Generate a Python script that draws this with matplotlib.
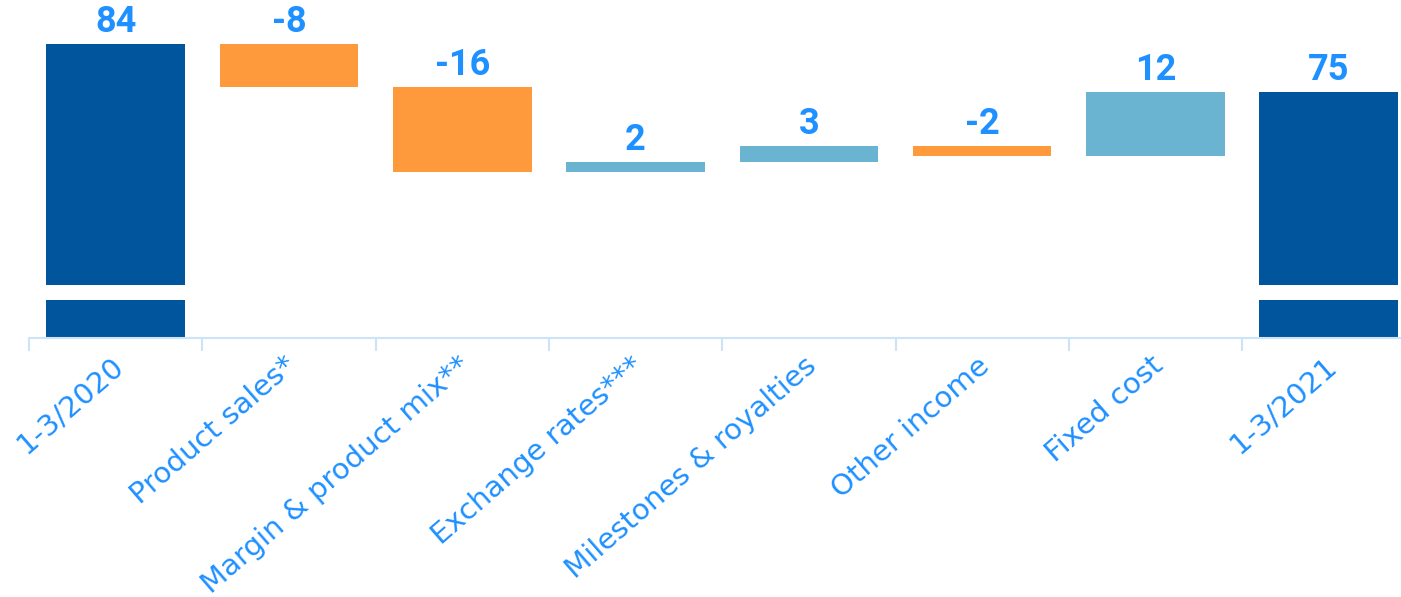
import matplotlib
matplotlib.use("Agg")
import matplotlib.pyplot as plt
import matplotlib.transforms as mtransforms

categories = ["1-3/2020", "Product sales*", "Margin & product mix**", "Exchange rates***",
              "Milestones & royalties", "Other income", "Fixed cost", "1-3/2021"]
values = [84, -8, -16, 2, 3, -2, 12, 75]
is_total = [True, False, False, False, False, False, False, True]
value_labels = ["84", "-8", "-16", "2", "3", "-2", "12", "75"]

C_TOTAL = "#00559C"
C_NEG = "#FF9A3C"
C_POS = "#6AB3D1"
C_TEXT = "#1E90FF"
C_AXIS = "#CDE4F8"

Y_MIN, Y_MAX = 29.05, 92.2
BREAK_LO, BREAK_HI = 36.15, 38.95

fig = plt.figure(figsize=(14.01, 5.97), dpi=100)
ax = fig.add_axes([29 / 1401, 259 / 597, 1 - 29 / 1401, 1 - 259 / 597])

width = 0.8
cum = 0
tops = []
for i, (v, tot) in enumerate(zip(values, is_total)):
    if tot:
        ax.bar(i, BREAK_LO - Y_MIN, bottom=Y_MIN, width=width, color=C_TOTAL, zorder=2)
        ax.bar(i, v - BREAK_HI, bottom=BREAK_HI, width=width, color=C_TOTAL, zorder=2)
        cum = v
        tops.append(v)
    else:
        start = cum
        end = cum + v
        color = C_POS if v > 0 else C_NEG
        ax.bar(i, end - start, bottom=start, width=width, color=color, zorder=2)
        tops.append(max(start, end))
        cum = end

for s in ["top", "right", "left"]:
    ax.spines[s].set_visible(False)
ax.spines["bottom"].set_color(C_AXIS)
ax.spines["bottom"].set_linewidth(1.5)
ax.set_yticks([])

ax.set_xticks(range(len(categories)))
ax.set_xticklabels([])
ax.tick_params(axis="x", which="major", length=0)
ax.set_xticks([k - 0.5 for k in range(len(categories) + 1)], minor=True)
ax.tick_params(axis="x", which="minor", length=9, width=1.5, color=C_AXIS)

x_right = -0.5 + (1401 - 29) / 173.3
ax.set_xlim(-0.5, x_right)
ax.set_ylim(Y_MIN, Y_MAX)

offset = mtransforms.offset_copy(ax.transData, fig=fig, x=0, y=12, units="dots")
for i, (t, lab) in enumerate(zip(tops, value_labels)):
    ax.text(i, t, lab, transform=offset, ha="center", va="baseline",
            fontsize=26, fontweight="bold", color=C_TEXT, family="Roboto")

lab_off = mtransforms.offset_copy(ax.get_xaxis_transform(), fig=fig, x=4, y=-24, units="dots")
for i, c in enumerate(categories):
    ax.text(i, 0, c, transform=lab_off, rotation=41, rotation_mode="anchor",
            ha="right", va="center", fontsize=21, color=C_TEXT, family="DejaVu Sans")

fig.savefig("out.png", dpi=100)
